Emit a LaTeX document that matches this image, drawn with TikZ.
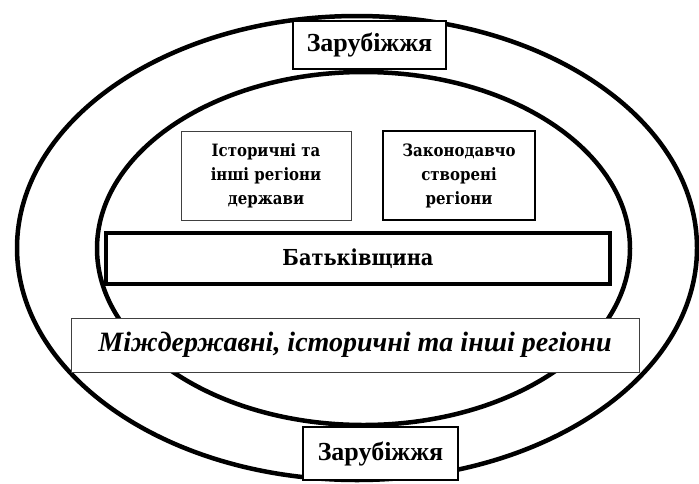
\documentclass[tikz,border=0pt]{standalone}
\usepackage{fontspec}
\setmainfont{Liberation Serif}
\newfontfamily\boxfont[FakeStretch=0.88]{DejaVu Serif}

\begin{document}
\begin{tikzpicture}[x=1pt, y=-1pt,
        ring/.style = {line width=4.5pt},
        abroad/.style = {draw, line width=2.5pt, fill=white, font=\bfseries\fontsize{26}{30}\selectfont},
        region/.style = {draw, fill=white, align=center, font=\boxfont\bfseries\fontsize{17}{24}\selectfont},
        thinbox/.style = {line width=0.8pt, draw=black!75},
        thickbox/.style = {line width=2.5pt}]
        \useasboundingbox (0,0) rectangle (699,483);
        % two rings
        \draw [ring] (357,248) ellipse [x radius=340, y radius=232];
        \draw [ring] (363.5,248.5) ellipse [x radius=266.5, y radius=176.5];
        % boxes
        \node [abroad, minimum width=153pt, minimum height=48pt] (top) at (369.5,45) {Зарубіжжя};
        \node [abroad, minimum width=155pt, minimum height=53pt] (bottom) at (380.5,453.5) {Зарубіжжя};
        \node [region, thinbox, minimum width=170pt, minimum height=89pt] (hist) at (266,175.5)
            {Історичні та\\інші регіони\\держави};
        \node [region, thickbox, minimum width=152pt, minimum height=89pt] (law) at (459,175.5)
            {Законодавчо\\створені\\регіони};
        \node [region, line width=3.5pt, minimum width=504pt, minimum height=51pt,
            font=\boxfont\bfseries\fontsize{22}{26}\selectfont] (home) at (358,258.5) {Батьківщина};
        \node [draw, thinbox, fill=white, minimum width=568pt, minimum height=54pt,
            font=\bfseries\itshape\fontsize{28}{32}\selectfont] (inter) at (355,345)
            {Міждержавні, історичні та інші регіони};
\end{tikzpicture}
\end{document}
